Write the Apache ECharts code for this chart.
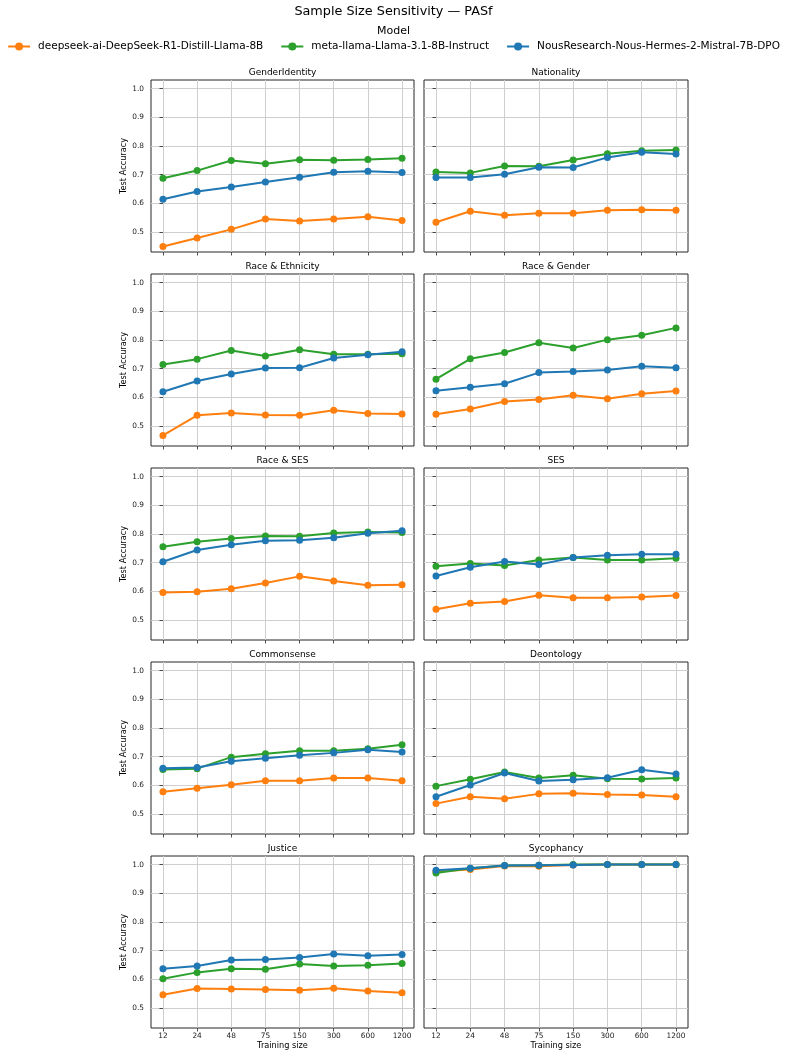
<!DOCTYPE html>
<html lang="en">
<head>
    <meta charset="UTF-8">
    <title>Sample Size Sensitivity — PASf</title>
    <style>
        body {
            margin: 0;
            background: #fff;
        }
        #chart {
            width: 787px;
            height: 1057px;
        }
    </style>
</head>
<body>
<div id="chart"></div>

<script src="https://cdn.jsdelivr.net/npm/echarts@6/dist/echarts.min.js"></script>
<script>
    // training sizes on the x axis (categorical positions 0..7)
    const trainingSizes = ['12', '24', '48', '75', '150', '300', '600', '1200'];
    const yTicks = [0.5, 0.6, 0.7, 0.8, 0.9, 1.0];

    const models = [
        'deepseek-ai-DeepSeek-R1-Distill-Llama-8B',
        'meta-llama-Llama-3.1-8B-Instruct',
        'NousResearch-Nous-Hermes-2-Mistral-7B-DPO'
    ];
    const colors = ['#ff7f0e', '#2ca02c', '#1f77b4'];

    const panelTitles = [
        'GenderIdentity', 'Nationality',
        'Race & Ethnicity', 'Race & Gender',
        'Race & SES', 'SES',
        'Commonsense', 'Deontology',
        'Justice', 'Sycophancy'
    ];

    // test accuracy per panel (same order as panelTitles)
    const deepseek = [
        [0.449, 0.479, 0.509, 0.545, 0.538, 0.545, 0.553, 0.540],
        [0.534, 0.572, 0.558, 0.565, 0.565, 0.576, 0.577, 0.576],
        [0.467, 0.537, 0.545, 0.538, 0.537, 0.555, 0.543, 0.542],
        [0.541, 0.559, 0.585, 0.592, 0.607, 0.595, 0.612, 0.622],
        [0.596, 0.598, 0.609, 0.629, 0.652, 0.636, 0.621, 0.623],
        [0.537, 0.558, 0.564, 0.586, 0.577, 0.577, 0.580, 0.585],
        [0.577, 0.590, 0.602, 0.616, 0.616, 0.625, 0.625, 0.616],
        [0.536, 0.560, 0.553, 0.570, 0.572, 0.568, 0.566, 0.560],
        [0.546, 0.568, 0.566, 0.564, 0.562, 0.569, 0.559, 0.553],
        [0.976, 0.983, 0.995, 0.994, 0.999, 1.000, 1.000, 1.000]
    ];
    const llama = [
        [0.687, 0.714, 0.749, 0.738, 0.752, 0.750, 0.753, 0.757],
        [0.709, 0.706, 0.730, 0.729, 0.751, 0.773, 0.783, 0.786],
        [0.714, 0.733, 0.763, 0.744, 0.766, 0.750, 0.750, 0.752],
        [0.663, 0.734, 0.756, 0.790, 0.772, 0.801, 0.816, 0.842],
        [0.755, 0.773, 0.784, 0.793, 0.792, 0.803, 0.807, 0.805],
        [0.687, 0.697, 0.690, 0.709, 0.718, 0.709, 0.709, 0.715],
        [0.655, 0.658, 0.698, 0.710, 0.720, 0.720, 0.727, 0.741],
        [0.597, 0.621, 0.646, 0.625, 0.635, 0.623, 0.622, 0.625],
        [0.602, 0.624, 0.637, 0.635, 0.653, 0.646, 0.649, 0.655],
        [0.971, 0.987, 0.997, 0.998, 1.000, 1.000, 1.000, 1.000]
    ];
    const hermes = [
        [0.614, 0.641, 0.657, 0.674, 0.691, 0.708, 0.712, 0.707],
        [0.690, 0.690, 0.701, 0.726, 0.725, 0.760, 0.778, 0.772],
        [0.619, 0.657, 0.681, 0.702, 0.703, 0.737, 0.748, 0.759],
        [0.623, 0.635, 0.647, 0.686, 0.690, 0.695, 0.708, 0.703],
        [0.703, 0.744, 0.762, 0.776, 0.778, 0.787, 0.802, 0.811],
        [0.653, 0.684, 0.704, 0.693, 0.718, 0.726, 0.729, 0.729],
        [0.659, 0.662, 0.684, 0.694, 0.705, 0.713, 0.724, 0.716],
        [0.560, 0.601, 0.643, 0.615, 0.619, 0.626, 0.654, 0.639],
        [0.637, 0.646, 0.667, 0.669, 0.676, 0.688, 0.682, 0.686],
        [0.980, 0.987, 0.997, 0.998, 0.999, 1.000, 1.000, 1.000]
    ];
    const allModels = [deepseek, llama, hermes];

    // layout of the 5x2 panel grid
    const font = 'DejaVu Sans';
    const colLeft = [151, 424];
    const colWidth = [263, 264];
    const rowTop = [80, 274, 468, 662, 856];
    const plotHeight = 172;
    const yMin = 0.430, yMax = 1.030;
    const xTicks = trainingSizes.map((s, k) => k);

    const chart = echarts.init(document.getElementById('chart'));

    const grids = [], xAxes = [], yAxes = [], series = [];
    const graphics = [
        {type: 'text', left: 'center', top: 5, style: {text: 'Sample Size Sensitivity — PASf', fontSize: 12.8, fontFamily: font, fill: '#000'}},
        {type: 'text', left: 'center', top: 26, style: {text: 'Model', fontSize: 11, fontFamily: font, fill: '#000'}}
    ];

    panelTitles.forEach((title, i) => {
        const col = i % 2;
        const row = Math.floor(i / 2);
        const bottomRow = row === rowTop.length - 1;

        grids.push({
            left: colLeft[col],
            top: rowTop[row],
            width: colWidth[col],
            height: plotHeight,
            show: true,
            borderColor: '#262626',
            borderWidth: 1,
            containLabel: false,
            outerBoundsMode: 'none'
        });

        xAxes.push({
            type: 'value',
            gridIndex: i,
            min: -0.35,
            max: 7.35,
            axisLine: {show: false},
            axisTick: {show: true, customValues: xTicks, length: 3.5, lineStyle: {color: '#262626', width: 0.8}},
            axisLabel: {
                show: bottomRow,
                customValues: xTicks,
                formatter: v => trainingSizes[Math.round(v)],
                margin: 5,
                fontSize: 7.4,
                fontFamily: font,
                color: '#222'
            },
            splitLine: {show: true, lineStyle: {color: '#cfcfcf', width: 1}},
            name: bottomRow ? 'Training size' : '',
            nameLocation: 'middle',
            nameGap: 14,
            nameTextStyle: {fontSize: 8.2, fontFamily: font, color: '#000'}
        });

        yAxes.push({
            type: 'value',
            gridIndex: i,
            min: yMin,
            max: yMax,
            axisLine: {show: false},
            axisTick: {show: true, customValues: yTicks, length: 3.5, lineStyle: {color: '#262626', width: 0.8}},
            axisLabel: {
                show: col === 0,
                customValues: yTicks,
                formatter: v => v.toFixed(1),
                margin: 7,
                fontSize: 7.4,
                fontFamily: font,
                color: '#222'
            },
            splitLine: {show: true, lineStyle: {color: '#cfcfcf', width: 1}},
            name: col === 0 ? 'Test Accuracy' : '',
            nameLocation: 'middle',
            nameRotate: 90,
            nameGap: 19,
            nameTextStyle: {fontSize: 8.2, fontFamily: font, color: '#000'}
        });

        graphics.push({
            type: 'text',
            x: colLeft[col] + colWidth[col] / 2,
            y: rowTop[row] - 7.5,
            style: {
                text: title,
                fontSize: 9,
                fontFamily: font,
                fill: '#000',
                textAlign: 'center',
                textVerticalAlign: 'middle'
            }
        });

        allModels.forEach((m, k) => {
            series.push({
                type: 'line',
                name: models[k],
                xAxisIndex: i,
                yAxisIndex: i,
                data: m[i].map((v, j) => [j, v]),
                symbol: 'circle',
                symbolSize: 7,
                lineStyle: {width: 2, color: colors[k]},
                itemStyle: {color: colors[k], borderWidth: 0},
                z: 3 + k
            });
        });
    });

    chart.setOption({
        animation: false,
        legend: {
            top: 41,
            left: 'center',
            padding: 0,
            itemWidth: 22,
            itemHeight: 10,
            itemGap: 17,
            data: models,
            textStyle: {fontSize: 10.5, fontFamily: font, color: '#000', padding: [0, 0, 0, 3]}
        },
        grid: grids,
        xAxis: xAxes,
        yAxis: yAxes,
        series: series,
        graphic: graphics
    });
</script>
</body>
</html>
